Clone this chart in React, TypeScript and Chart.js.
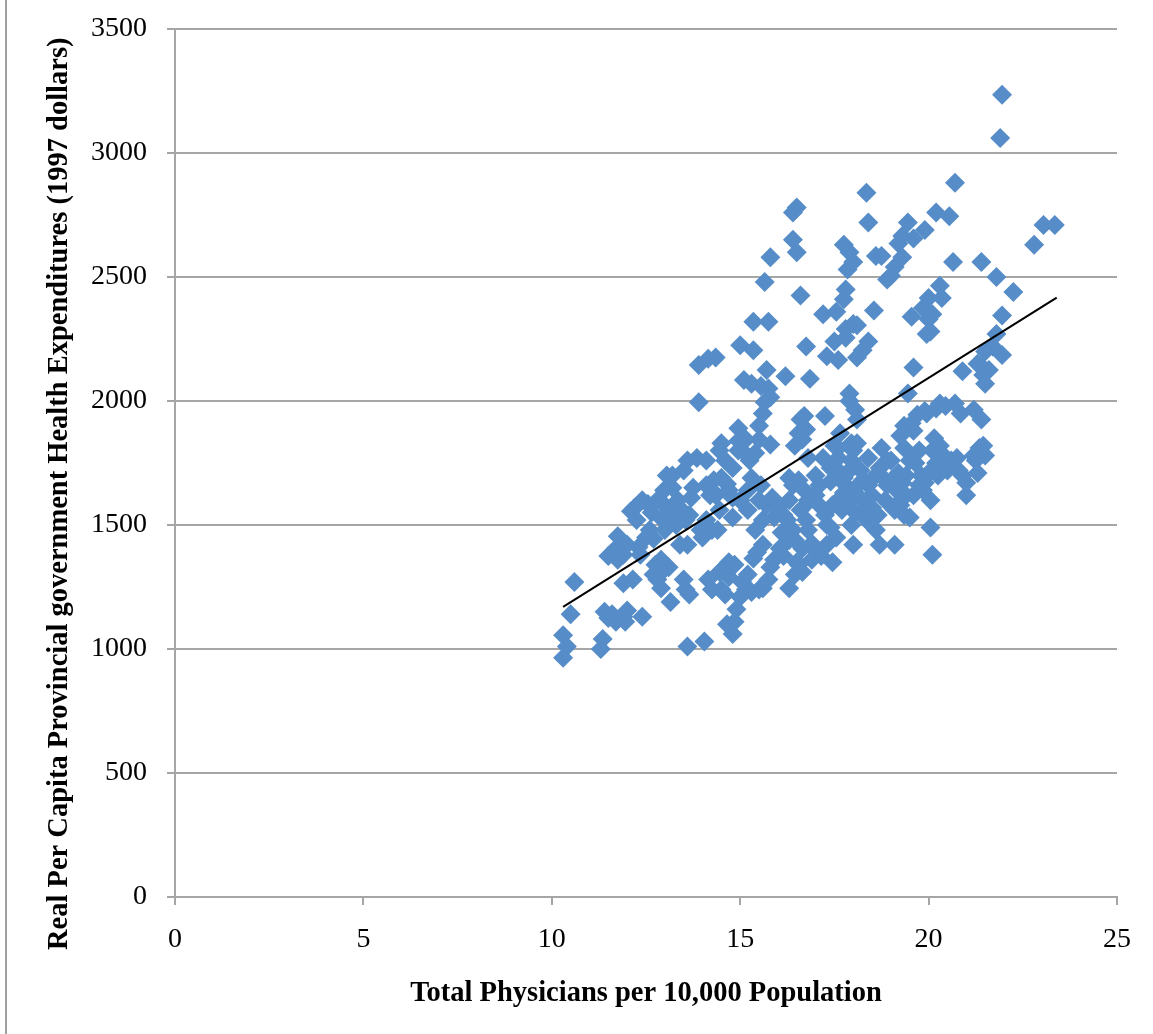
import { useEffect, useRef } from 'react';
import { Chart, registerables } from 'chart.js';

Chart.register(...registerables);

const X_TITLE = 'Total Physicians per 10,000 Population';
const Y_TITLE = 'Real Per Capita Provincial government Health Expenditures (1997 dollars)';

const X_MIN = 0;
const X_MAX = 25;
const X_STEP = 5;
const Y_MIN = 0;
const Y_MAX = 3500;
const Y_STEP = 500;

// [physicians per 10,000, real per capita expenditure]
const points10to12: [number, number][] = [
  [10.3, 1055], [10.4, 1010], [10.3, 965], [10.5, 1140], [10.6, 1270],
  [11.3, 1000], [11.35, 1040], [11.4, 1150], [11.5, 1125], [11.6, 1140], [11.7, 1110],
  [11.9, 1130], [12.0, 1155], [11.95, 1110], [11.5, 1375], [11.7, 1405], [11.75, 1360],
  [11.9, 1380], [12.0, 1420], [11.75, 1455], [11.9, 1265],
];
const points12to13: [number, number][] = [
  [12.15, 1280], [12.1, 1555], [12.2, 1570], [12.25, 1520], [12.4, 1600], [12.4, 1130],
  [12.55, 1585], [12.6, 1480], [12.7, 1445], [12.75, 1340], [12.7, 1300], [12.8, 1280],
  [12.9, 1360], [12.85, 1300], [12.9, 1245], [12.95, 1520], [13.0, 1580], [12.98, 1640],
  [13.05, 1700], [12.3, 1410], [12.35, 1380], [12.5, 1450], [12.65, 1550], [12.8, 1600],
];
const points13to14: [number, number][] = [
  [13.15, 1190], [13.3, 1500], [13.25, 1550], [13.35, 1600], [13.4, 1420], [13.55, 1520],
  [13.6, 1420], [13.5, 1720], [13.6, 1760], [13.7, 1610], [13.65, 1540], [13.5, 1280],
  [13.55, 1240], [13.65, 1220], [13.6, 1010], [13.9, 1995], [13.9, 2145], [13.85, 1770],
  [13.2, 1650], [13.1, 1560], [13.45, 1560], [13.75, 1650], [13.2, 1700], [13.0, 1480],
  [13.1, 1330],
];
const points14to15: [number, number][] = [
  [14.15, 2170], [14.35, 2175], [14.05, 1030], [13.95, 1480], [14.1, 1520], [14.25, 1480],
  [14.4, 1480], [14.45, 1560], [14.25, 1640], [14.35, 1620], [14.1, 1660], [14.3, 1680],
  [14.5, 1690], [14.65, 1665], [14.7, 1640], [14.8, 1610], [15.0, 1600], [14.8, 1530],
  [14.15, 1280], [14.25, 1240], [14.45, 1310], [14.5, 1240], [14.7, 1290], [14.85, 1340],
  [14.7, 1350], [14.6, 1220], [14.9, 1160], [14.85, 1110], [14.8, 1060], [14.65, 1100],
  [14.1, 1760], [14.5, 1830], [14.45, 1800], [14.8, 1730], [14.95, 1800], [14.6, 1760],
  [14.2, 1620], [14.0, 1450], [14.95, 1840], [14.95, 1890],
];
const points15to16: [number, number][] = [
  [15.0, 2225], [15.35, 2205], [15.0, 1600], [15.15, 1240], [15.2, 1300], [15.35, 1365],
  [15.45, 1390], [15.6, 1420], [15.6, 1245], [15.75, 1280], [15.8, 1330], [15.9, 1360],
  [15.05, 1270], [15.3, 1230], [15.5, 1240], [15.0, 1210], [15.1, 2085], [15.3, 2070],
  [15.55, 2060], [15.75, 2050], [15.8, 2015], [15.65, 1995], [15.6, 1950], [15.5, 1900],
  [15.5, 1845], [15.8, 1825], [15.15, 1845], [15.05, 1800], [15.25, 1760], [15.4, 1790],
  [15.35, 2320], [15.75, 2320], [15.65, 2480], [15.8, 2580], [15.7, 2125], [15.3, 1690],
  [15.55, 1660], [15.5, 1600], [15.7, 1580], [15.85, 1610], [15.2, 1640], [15.9, 1530],
  [15.4, 1480], [15.2, 1560], [15.6, 1520],
];
const points16to17: [number, number][] = [
  [16.05, 1405], [16.15, 1375], [16.3, 1245], [16.45, 1300], [16.5, 1350], [16.65, 1405],
  [16.4, 1480], [16.25, 1520], [16.6, 1560], [16.75, 1520], [16.8, 1480], [16.9, 1425],
  [16.3, 1440], [16.1, 1470], [16.5, 2780], [16.4, 2760], [16.4, 2650], [16.5, 2600],
  [16.6, 2425], [16.75, 2220], [16.2, 2100], [16.85, 2090], [16.6, 1925], [16.75, 1885],
  [16.65, 1845], [16.55, 1870], [16.45, 1820], [16.8, 1770], [16.7, 1940], [16.4, 1660],
  [16.55, 1680], [16.7, 1640], [16.85, 1600], [16.95, 1620], [16.3, 1600], [16.55, 1340],
  [16.65, 1310], [16.9, 1360], [16.45, 1440], [16.0, 1570], [16.15, 1540], [16.3, 1690],
  [16.8, 1600],
];
const points17to18: [number, number][] = [
  [17.05, 1390], [17.15, 1375], [17.3, 1420], [17.4, 1490], [17.25, 1540], [17.1, 1580],
  [17.0, 1620], [17.4, 1675], [17.6, 1720], [17.75, 1690], [17.45, 1580], [17.7, 1560],
  [17.9, 1600], [18.05, 1550], [18.0, 1420], [17.2, 2350], [17.55, 2360], [17.3, 2180],
  [17.6, 2165], [17.25, 1940], [17.2, 1770], [17.5, 1820], [17.6, 1810], [17.75, 1630],
  [17.75, 2630], [17.9, 2600], [17.85, 2530], [17.8, 2450], [17.75, 2410], [17.8, 2290],
  [17.8, 2255], [17.5, 2240], [17.9, 2030], [17.9, 2000], [17.65, 1870], [17.95, 1830],
  [17.4, 1730], [17.6, 1770], [17.9, 1720], [17.1, 1660], [17.0, 1700], [17.3, 1500],
  [17.55, 1450], [17.95, 1500], [17.6, 1600], [17.8, 1660], [17.95, 1760], [17.45, 1350],
];
const points18to19: [number, number][] = [
  [18.35, 2840], [18.4, 2720], [18.0, 2560], [18.6, 2585], [18.75, 2585], [18.0, 2310],
  [18.1, 2305], [18.4, 2240], [18.25, 2205], [18.1, 2175], [18.05, 1965], [18.1, 1925],
  [18.55, 2365], [18.25, 1600], [18.4, 1660], [18.5, 1620], [18.65, 1540], [18.6, 1480],
  [18.7, 1420], [18.0, 1800], [18.1, 1830], [18.2, 1720], [18.4, 1770], [18.6, 1700],
  [18.7, 1730], [18.85, 1600], [18.9, 1760], [18.3, 1560], [18.5, 1570], [18.9, 2490],
  [18.8, 1690], [18.25, 1680], [18.0, 1640], [18.35, 1520], [18.9, 1660], [18.75, 1810],
];
const points19to20: [number, number][] = [
  [19.0, 2505], [19.2, 2635], [19.3, 2665], [19.45, 2720], [19.6, 2655], [19.1, 2540],
  [19.3, 2580], [19.55, 2340], [19.9, 2690], [19.45, 2030], [19.6, 2135], [19.85, 2375],
  [20.0, 2415], [20.0, 2330], [19.95, 2270], [19.95, 1950], [19.7, 1945], [19.55, 1910],
  [19.35, 1900], [19.25, 1860], [19.35, 1810], [19.6, 1880], [19.1, 1420], [19.1, 1560],
  [19.25, 1580], [19.35, 1540], [19.4, 1620], [19.6, 1620], [19.75, 1660], [19.0, 1760],
  [19.2, 1710], [19.5, 1760], [19.65, 1750], [19.8, 1700], [19.9, 1670], [19.05, 1680],
  [19.3, 1670], [19.4, 1700], [19.15, 1640], [19.9, 1960], [19.75, 1800], [19.2, 1590],
  [19.5, 1530], [19.85, 1640],
];
const points20to21: [number, number][] = [
  [20.05, 1600], [20.1, 1380], [20.05, 1490], [20.2, 2760], [20.55, 2745], [20.7, 2880],
  [20.3, 2465], [20.35, 2415], [20.1, 2350], [20.3, 1990], [20.65, 2560], [20.15, 1850],
  [20.3, 1820], [20.4, 1780], [20.6, 1760], [20.2, 1750], [20.0, 1710], [20.5, 1730],
  [20.8, 1720], [20.9, 1700], [21.0, 1670], [21.0, 1620], [20.7, 1990], [20.85, 1950],
  [20.9, 2120], [20.1, 1800], [20.2, 1970], [20.45, 1980], [20.05, 2280], [20.5, 1720],
  [20.75, 1770], [20.25, 1700],
];
const points21to24: [number, number][] = [
  [21.2, 1965], [21.4, 1925], [21.2, 1780], [21.35, 1810], [21.45, 1820], [21.5, 1780],
  [21.25, 1760], [21.3, 1710], [21.45, 2105], [21.5, 2070], [21.4, 2140], [21.6, 2125],
  [21.7, 2220], [21.8, 2270], [21.4, 2560], [21.8, 2500], [21.95, 2345], [21.95, 3235],
  [21.9, 3060], [21.95, 2185], [21.5, 2200], [21.3, 2150], [22.25, 2440], [22.8, 2630],
  [23.05, 2710], [23.35, 2710],
];

// Linear trend line end points
const trendX = [10.3, 23.4];
const trendY = [1170, 2417];

const FONT = '"Liberation Serif", "Times New Roman", serif';
const GRID = '#a6a6a6';
const MARKER = 'rgb(86, 141, 200)';

export default function App() {
  const ref = useRef<HTMLCanvasElement>(null);

  useEffect(() => {
    const all = [
      ...points10to12, ...points12to13, ...points13to14, ...points14to15, ...points15to16,
      ...points16to17, ...points17to18, ...points18to19, ...points19to20, ...points20to21,
      ...points21to24,
    ].map(([x, y]) => ({ x, y }));

    const titles = {
      id: 'axisTitles',
      afterDraw(chart: any) {
        const { ctx, chartArea } = chart;
        ctx.save();
        ctx.fillStyle = '#000';
        ctx.font = `bold 28.5px ${FONT}`;
        ctx.textBaseline = 'alphabetic';
        ctx.textAlign = 'center';
        ctx.fillText(X_TITLE, (chartArea.left + chartArea.right) / 2, 1001);
        ctx.translate(67, 950);
        ctx.rotate(-Math.PI / 2);
        ctx.textAlign = 'left';
        ctx.fillText(Y_TITLE, 0, 0);
        ctx.restore();
      },
    };

    const chart = new Chart(ref.current!, {
      type: 'scatter',
      data: {
        datasets: [
          {
            data: trendX.map((x, i) => ({ x, y: trendY[i] })),
            showLine: true,
            borderColor: '#000',
            borderWidth: 2,
            pointRadius: 0,
            order: 0,
          },
          {
            data: all,
            pointStyle: 'rectRot',
            pointRadius: 10,
            backgroundColor: MARKER,
            borderColor: MARKER,
            borderWidth: 0,
            order: 1,
          },
        ],
      },
      options: {
        animation: false,
        responsive: false,
        devicePixelRatio: 1,
        events: [],
        layout: { padding: { top: 29, right: 36, left: 0, bottom: 0 } },
        plugins: { legend: { display: false }, tooltip: { enabled: false } },
        scales: {
          x: {
            type: 'linear',
            min: X_MIN,
            max: X_MAX,
            ticks: {
              stepSize: X_STEP, color: '#000', font: { family: FONT, size: 28 }, padding: 18, maxRotation: 0,
              callback: (v: any) => String(v),
            },
            grid: { drawOnChartArea: false, drawTicks: true, tickLength: 8, color: GRID, lineWidth: 2 },
            border: { color: GRID, width: 2 },
            afterFit: (s: any) => { s.height = 137; },
          },
          y: {
            type: 'linear',
            min: Y_MIN,
            max: Y_MAX,
            ticks: {
              stepSize: Y_STEP, color: '#000', font: { family: FONT, size: 28 }, padding: 20,
              callback: (v: any) => String(v),
            },
            grid: { color: GRID, lineWidth: 2, tickLength: 8, drawTicks: true },
            border: { color: GRID, width: 2 },
            afterFit: (s: any) => {
              s.width = 175;
              s.paddingTop = 0;
              s.paddingBottom = 0;
            },
          },
        },
      },
      plugins: [titles],
    });
    return () => chart.destroy();
  }, []);

  return (
    <div style={{ position: 'fixed', left: 0, top: 0, width: 1153, height: 1034, background: '#fff' }}>
      <div style={{ position: 'absolute', left: 5, top: 0, width: 2, height: 1034, background: '#a0a0a0' }} />
      <canvas ref={ref} width={1153} height={1034} style={{ position: 'absolute', left: 0, top: 0 }} />
    </div>
  );
}
